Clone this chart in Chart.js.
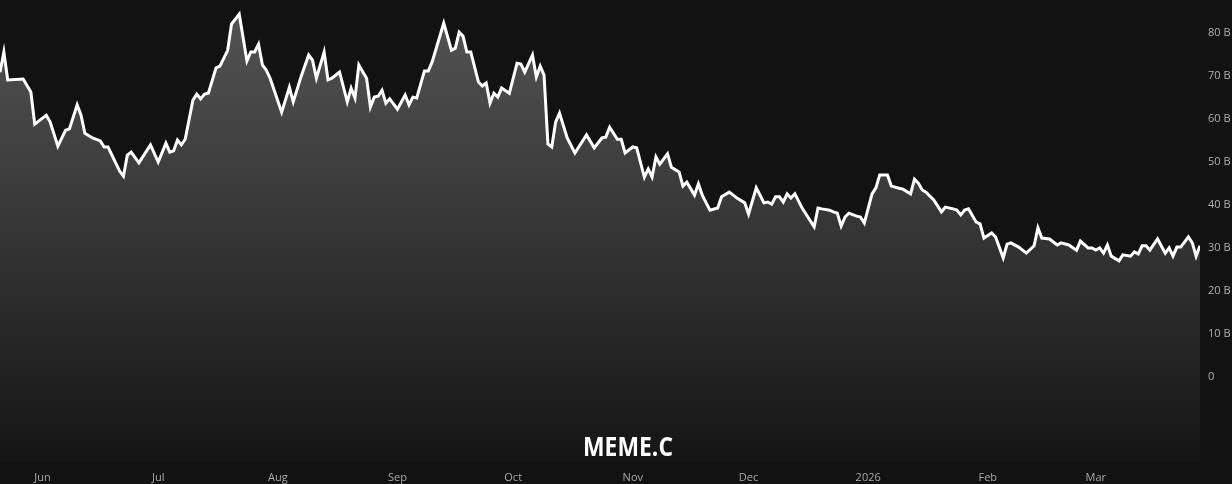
<!DOCTYPE html>
<html lang="en">
<head>
    <meta charset="UTF-8">
    <title>MEME.C market cap</title>
    <script src="https://cdn.jsdelivr.net/npm/chart.js"></script>
    <style>
        body { margin: 0; background: #121212; }
        #wrap { width: 1232px; height: 484px; }
    </style>
</head>
<body>
    <div id="wrap">
        <canvas id="capChart" width="1232" height="484"></canvas>
    </div>

    <script>
        // day offsets counted from 2025-05-21, market cap in billions
        const days = [0, 1, 2, 6, 8, 9, 12, 13, 15, 17, 18, 20, 21, 22, 24, 26, 27, 28, 31, 32, 33, 34, 36, 39, 41, 43, 44, 45, 46, 47, 48,
            50, 51, 52, 53, 54, 56, 57, 59, 60, 62, 64, 65, 66, 67, 68, 69, 70, 73, 75, 76, 78, 80, 81, 82, 84, 85, 86, 88,
            90, 91, 92, 93, 94, 95, 96, 97, 98, 99, 100, 101, 103, 105, 106, 107, 108, 110, 111, 112, 115, 117, 118, 119, 120, 121, 122,
            124, 125, 126, 127, 128, 129, 130, 132, 134, 135, 136, 138, 139, 140, 141, 142, 143, 144, 145, 147, 149, 152, 154, 156, 157, 158,
            160, 161, 162, 164, 165, 167, 168, 169, 170, 171, 173, 174, 176, 177, 178, 180, 181, 182, 184, 186, 187, 189, 191, 193, 194, 196,
            198, 199, 200, 201, 202, 203, 204, 205, 206, 208, 211, 212, 213, 215, 216, 217, 218, 219, 220, 222, 223, 224, 226, 227, 228, 230,
            231, 233, 234, 236, 237, 238, 239, 240, 242, 244, 245, 247, 248, 249, 250, 251, 253, 254, 255, 257, 258, 260, 261, 262, 264, 266,
            268, 269, 270, 272, 274, 275, 277, 279, 280, 282, 283, 284, 285, 286, 287, 288, 290, 291, 293, 294, 295, 296, 297, 298, 300, 302,
            303, 304, 305, 306, 308, 309, 310, 311];
        const caps = [70.9, 75.6, 69.1, 69.3, 66.3, 58.8, 60.9, 59.3, 53.7, 57.4, 57.7, 63.3, 60.9, 56.7, 55.6, 54.9, 53.5, 53.5, 47.9, 46.7, 51.6, 52.3, 49.8, 54.0, 50.0, 54.4, 52.3, 52.6, 55.1, 54.0, 55.3,
            64.4, 65.8, 64.7, 65.8, 66.0, 71.9, 72.3, 76.0, 82.1, 84.4, 73.5, 75.6, 75.6, 77.4, 72.6, 71.4, 69.5, 61.6, 67.4, 64.0, 69.8, 74.9, 73.7, 69.5, 75.6, 69.1, 69.5, 70.9,
            64.0, 67.2, 64.9, 72.6, 71.0, 69.5, 62.8, 65.1, 65.3, 66.7, 63.7, 64.7, 62.3, 65.6, 63.3, 65.1, 64.9, 71.2, 71.2, 73.3, 82.3, 76.0, 76.5, 80.2, 79.3, 75.6, 75.6,
            68.6, 67.7, 68.4, 63.7, 66.0, 65.1, 67.2, 66.0, 73.0, 72.8, 70.9, 74.9, 69.8, 72.3, 70.2, 54.2, 53.5, 59.3, 61.4, 55.6, 52.1, 56.3, 53.3, 55.6, 55.8, 58.1,
            55.3, 55.3, 52.1, 53.5, 53.3, 46.5, 48.4, 46.5, 51.2, 49.5, 51.9, 48.8, 47.7, 44.4, 45.3, 42.3, 44.9, 42.3, 38.8, 39.3, 41.9, 43.0, 41.6, 40.5, 37.9, 44.0,
            40.5, 40.7, 40.2, 41.9, 41.9, 40.7, 42.6, 41.6, 42.6, 39.1, 34.9, 39.3, 39.1, 38.8, 38.4, 38.1, 35.1, 37.2, 38.1, 37.4, 37.2, 35.8, 42.6, 44.0, 47.0, 47.0,
            44.4, 43.9, 43.7, 42.6, 46.0, 45.1, 43.5, 43.0, 41.2, 38.4, 39.5, 39.1, 38.8, 37.7, 38.8, 39.1, 36.0, 35.6, 32.3, 33.5, 32.6, 27.7, 30.9, 31.2, 30.2, 28.8,
            30.5, 34.7, 32.3, 32.1, 30.7, 31.2, 30.7, 29.5, 31.6, 30.0, 30.0, 29.5, 30.0, 28.8, 30.7, 28.1, 27.0, 28.4, 28.1, 29.1, 28.6, 30.5, 30.5, 29.5, 32.1, 28.8,
            30.0, 28.1, 30.2, 30.2, 32.6, 31.2, 28.1, 30.5];

        // month ticks (day offsets) and their labels
        const monthDays = [11, 41, 72, 103, 133, 164, 194, 225, 256, 284];
        const monthLabels = ["Jun", "Jul", "Aug", "Sep", "Oct", "Nov", "Dec", "2026", "Feb", "Mar"];
        const yTicks = [0, 10, 20, 30, 40, 50, 60, 70, 80];
        const symbol = "MEME.C";

        const watermark = {
            id: "watermark",
            afterDraw(chart) {
                const c = chart.ctx;
                c.save();
                c.fillStyle = "#ffffff";
                c.font = "bold 26px 'Open Sans', sans-serif";
                c.textAlign = "center";
                c.textBaseline = "alphabetic";
                c.fillText(symbol, 628, 456, 90);
                c.restore();
            }
        };

        const ctx = document.getElementById("capChart").getContext("2d");
        const capChart = new Chart(ctx, {
            type: "line",
            data: {
                datasets: [{
                    data: days.map((d, i) => ({ x: d, y: caps[i] })),
                    borderColor: "#ffffff",
                    borderWidth: 3,
                    pointRadius: 0,
                    tension: 0,
                    fill: "start",
                    backgroundColor: (c) => {
                        const area = c.chart.chartArea;
                        if (!area) return "#333";
                        const g = c.chart.ctx.createLinearGradient(0, area.top, 0, area.bottom);
                        g.addColorStop(0, "#555555");
                        g.addColorStop(1, "#151515");
                        return g;
                    }
                }]
            },
            options: {
                responsive: false,
                animation: false,
                layout: { padding: 0 },
                plugins: { legend: { display: false }, tooltip: { enabled: false } },
                scales: {
                    x: {
                        type: "linear",
                        min: 0,
                        max: 311,
                        grid: { display: false, drawTicks: false },
                        border: { display: false },
                        afterBuildTicks: (axis) => { axis.ticks = monthDays.map(v => ({ value: v })); },
                        afterFit: (axis) => { axis.height = 22; axis.paddingLeft = 0; axis.paddingRight = 0; },
                        ticks: {
                            autoSkip: false,
                            maxRotation: 0,
                            padding: 9,
                            color: "#a8a8a8",
                            font: { size: 11, family: "'Open Sans', sans-serif" },
                            callback: (v) => monthLabels[monthDays.indexOf(v)]
                        }
                    },
                    y: {
                        position: "right",
                        min: -19.8,
                        max: 87.7,
                        grid: { display: false, drawTicks: false },
                        border: { display: false },
                        afterBuildTicks: (axis) => { axis.ticks = yTicks.map(v => ({ value: v })); },
                        afterFit: (axis) => { axis.width = 32; axis.paddingTop = 0; axis.paddingBottom = 0; },
                        ticks: {
                            padding: 8,
                            color: "#b0b0b0",
                            font: { size: 11, family: "'Open Sans', sans-serif" },
                            callback: (v) => v === 0 ? "0" : v + " B"
                        }
                    }
                }
            },
            plugins: [watermark]
        });
    </script>
</body>
</html>
